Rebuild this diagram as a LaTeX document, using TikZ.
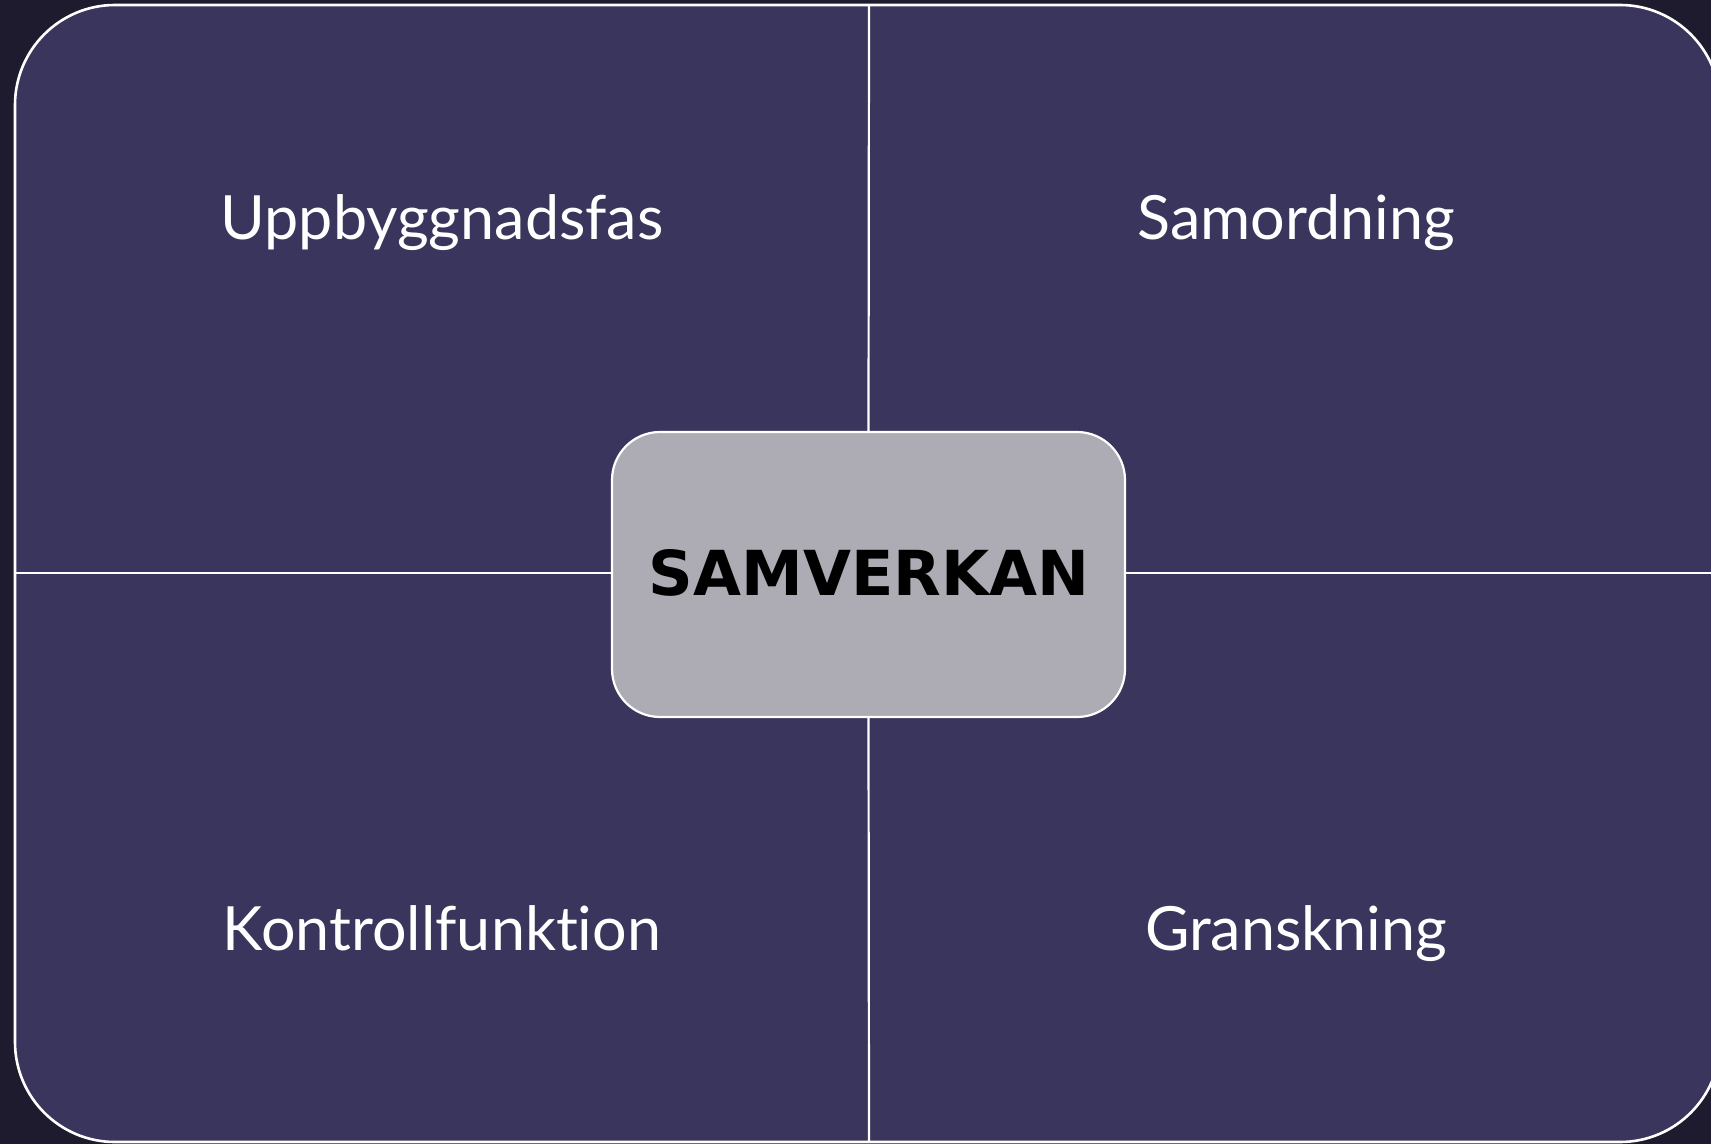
\documentclass[tikz,border=0pt]{standalone}
\usepackage{fontspec}
\setmainfont{Lato}[Ligatures=NoCommon]
\newfontfamily\heavyfont{DejaVu Sans}
\definecolor{bgdark}{HTML}{1E1B2F}
\definecolor{panel}{HTML}{3A355C}
\definecolor{boxgray}{HTML}{ADACB5}
\tikzset{
  divider/.style={draw=white, line width=1.1pt},
  label/.style={text=white, font=\fontsize{30.5}{36}\selectfont, anchor=base},
  centerbox/.style={draw=white, line width=1.1pt, fill=boxgray, rounded corners=24pt,
    minimum width=256.5pt, minimum height=142.5pt, inner sep=0pt},
  centertext/.style={font=\heavyfont\bfseries\fontsize{31}{36}\selectfont, text=black, anchor=base, inner sep=0pt},
}
\begin{document}
\begin{tikzpicture}[x=0.5pt,y=-0.5pt]
\useasboundingbox (0,0) rectangle (1711,1144);
\clip (0,0) rectangle (1711,1144);
\fill[bgdark] (0,0) rectangle (1711,1144);
\draw[draw=white, line width=1.3pt, fill=panel, rounded corners=50pt] (15,5) rectangle (1720,1142);
\node[centerbox] (c) at (868.5,574.5) {};
\node[centertext] (ct) at (869,595) {SAMVERKAN};
\coordinate (t) at (869,5);
\coordinate (b) at (869,1142);
\coordinate (l) at (15,573);
\coordinate (r) at (1720,573);
\draw[divider] (t) -- (c.north);
\draw[divider] (c.south) -- (b);
\draw[divider] (l) -- (c.west |- l);
\draw[divider] (c.east |- r) -- (r);
\node[label] (q1) at (442,240) {Uppbyggnadsfas};
\node[label] (q2) at (1296,240) {Samordning};
\node[label] (q3) at (442,950) {Kontrollfunktion};
\node[label] (q4) at (1296,950) {Granskning};
\end{tikzpicture}
\end{document}
